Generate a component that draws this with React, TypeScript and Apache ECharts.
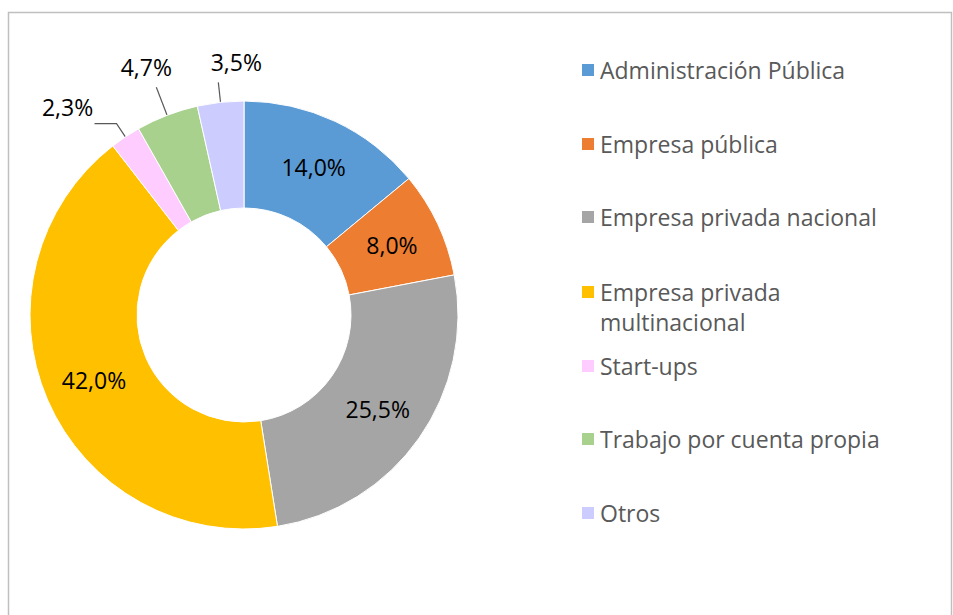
import React, { useEffect, useRef } from "react";
import * as echarts from "echarts";

const categories = [
  "Administración Pública",
  "Empresa pública",
  "Empresa privada nacional",
  "Empresa privada multinacional",
  "Start-ups",
  "Trabajo por cuenta propia",
  "Otros",
];
const values = [14.0, 8.0, 25.5, 42.0, 2.3, 4.7, 3.5];
const colors = ["#5B9BD5", "#ED7D31", "#A5A5A5", "#FFC000", "#FFCCFF", "#A9D18E", "#CCCCFF"];
const insideLabel = [true, true, true, true, false, false, false];

// styling only: legend row centres, leader-line lengths and label offsets
const legendCenters = [70, 144, 217, 292, 366, 439, 513];
const lineLen: [number, number][] = [[0, 0], [0, 0], [0, 0], [0, 0], [16, 22], [30, 0], [20, 0]];
const labelOffsets: [number, number][] = [[0, 0], [0, 0], [0, 0], [0, 0], [-27, -17], [-10, -20], [18, -20]];

const FONT = "Open Sans";
const FS = 23;

export default function App() {
  const ref = useRef<HTMLDivElement>(null);
  useEffect(() => {
    if (!ref.current) return;
    const chart = echarts.init(ref.current, undefined, { renderer: "svg" });
    const fmt = (p: any) => p.value.toFixed(1).replace(".", ",") + "%";
    const legends = categories.map((c, i) => {
      const multi = c === "Empresa privada multinacional";
      return {
        data: [c],
        orient: "vertical",
        left: 580,
        top: legendCenters[i] - (multi ? 45 : 15),
        padding: 0,
        itemWidth: 14,
        itemHeight: 14,
        itemGap: 0,
        icon: "rect",
        formatter: (name: string) =>
          name === "Empresa privada multinacional" ? "\nEmpresa privada\nmultinacional" : name,
        textStyle: {
          fontFamily: FONT,
          fontSize: FS,
          color: "#595959",
          lineHeight: 30,
        },
      };
    });
    chart.setOption({
      animation: false,
      color: colors,
      graphic: [
        {
          type: "rect",
          shape: { x: 8.5, y: 12.5, width: 943, height: 620 },
          style: { fill: "none", stroke: "#BFBFBF", lineWidth: 1.5 },
          silent: true,
        },
      ],
      legend: legends,
      series: [
        {
          type: "pie",
          center: [244, 315],
          radius: [107, 214],
          startAngle: 90,
          clockwise: true,
          avoidLabelOverlap: false,
          itemStyle: { borderColor: "#fff", borderWidth: 1 },
          label: {
            formatter: fmt,
            fontFamily: FONT,
            fontSize: FS,
            color: "#000",
          },
          labelLine: { lineStyle: { color: "#595959", width: 1.2 } },
          labelLayout: (p: any) => {
            const i = p.dataIndex;
            if (insideLabel[i] || !p.labelLinePoints) return {};
            const pts = p.labelLinePoints;
            const end = pts[pts.length - 1];
            return {
              x: end[0] + labelOffsets[i][0],
              y: end[1] + labelOffsets[i][1],
              align: "center",
              verticalAlign: "middle",
              labelLinePoints: pts,
            };
          },
          data: categories.map((c, i) => ({
            name: c,
            value: values[i],
            label: insideLabel[i] ? { position: "inside" } : { position: "outside" },
            labelLine: insideLabel[i]
              ? { show: false }
              : { show: true, length: lineLen[i][0], length2: lineLen[i][1] },
          })),
        },
      ],
    });
    return () => chart.dispose();
  }, []);
  return (
    <div
      ref={ref}
      style={{ position: "fixed", left: 0, top: 0, width: 953, height: 615, background: "#fff" }}
    />
  );
}
